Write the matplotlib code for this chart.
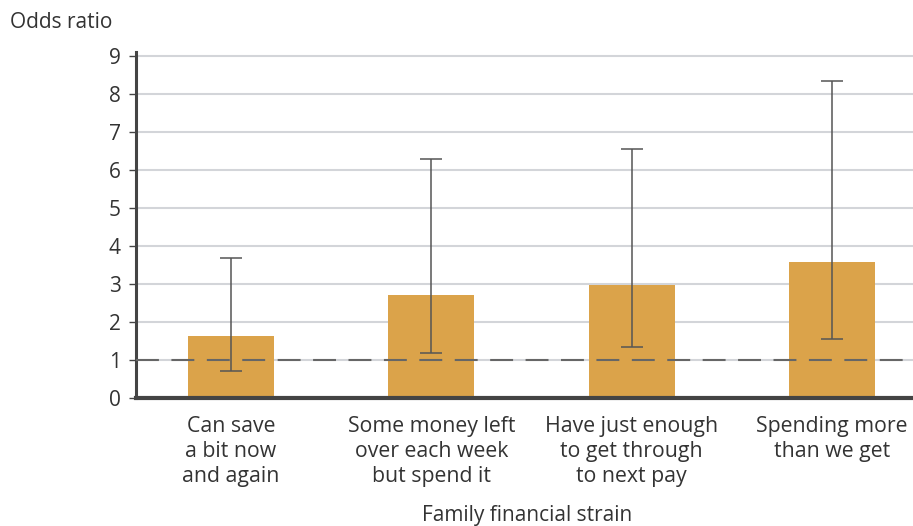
import matplotlib.pyplot as plt
import numpy as np

plt.rcParams['font.family'] = ['Open Sans', 'DejaVu Sans']

categories = ["Can save\na bit now\nand again",
              "Some money left\nover each week\nbut spend it",
              "Have just enough\nto get through\nto next pay",
              "Spending more\nthan we get"]
odds = [1.64, 2.72, 2.96, 3.59]
ci_low = [0.71, 1.18, 1.33, 1.55]
ci_high = [3.69, 6.29, 6.56, 8.34]
yticks = list(range(0, 10))

bar_color = '#DBA34A'
text_color = '#333333'

fig = plt.figure(figsize=(9.13, 5.26), dpi=100)
ax = fig.add_axes([136/913, 1-398/526, (913-136)/913, (398-52)/526])

x = np.arange(len(categories))
odds = np.array(odds)
err = [odds - np.array(ci_low), np.array(ci_high) - odds]

ax.bar(x, odds, width=0.43, color=bar_color, zorder=2)
ax.errorbar(x, odds, yerr=err, fmt='none', ecolor='#555555', elinewidth=1.1,
            capsize=8, capthick=1.1, zorder=3)
ax.axhline(1, color='#666666', lw=1.5, dashes=(11, 6), zorder=4)

ax.set_ylim(0, 9.1)
ax.set_xlim(-0.475, 3.405)
ax.set_yticks(yticks)
ax.yaxis.grid(True, color='#D3D5D9', lw=1.5, zorder=0)
ax.set_axisbelow(True)

for s in ['top', 'right']:
    ax.spines[s].set_visible(False)
ax.spines['left'].set_linewidth(2.2)
ax.spines['left'].set_color('#444444')
ax.spines['bottom'].set_linewidth(3)
ax.spines['bottom'].set_color('#444444')

ax.tick_params(axis='y', length=5, width=1, color='#444444', labelsize=15,
               labelcolor=text_color, pad=6)
ax.tick_params(axis='x', length=0, labelsize=15.3, labelcolor=text_color, pad=13)
ax.set_xticks(x)
ax.set_xticklabels(categories, linespacing=1.26)

fig.text(10/913, 1-22/526, "Odds ratio", fontsize=15, color=text_color,
         va='center', ha='left')
fig.text(527/913, 1-515/526, "Family financial strain", fontsize=15,
         color=text_color, va='center', ha='center')

fig.savefig('out.png', dpi=100)
